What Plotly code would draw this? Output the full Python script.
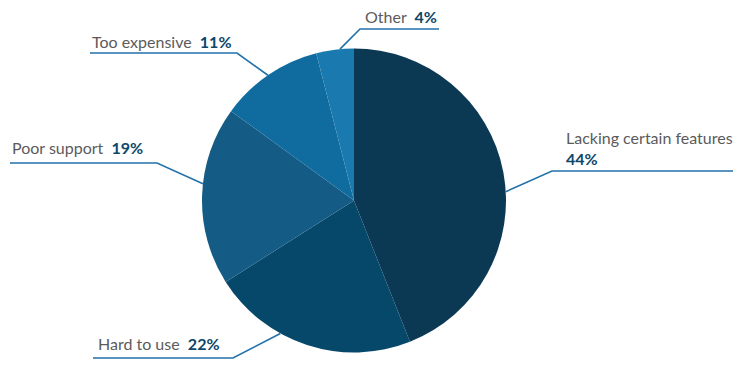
import math
import plotly.graph_objects as go

categories = ["Lacking certain features", "Hard to use", "Poor support", "Too expensive", "Other"]
values = [44, 22, 19, 11, 4]
colors = ["#0b3954", "#06486a", "#145b85", "#106b9f", "#1a7aaf"]

# page has 8px body margin; figure is sized so it fits the window exactly
OFF = 8
W, H = 747 - 2 * OFF, 373 - 2 * OFF
CX, CY, R = 354, 200.5, 152

# label layout (style/positions, in window pixels): anchor angle on rim, elbow, line end, text pos
label_layout = {
    "Lacking certain features": dict(ang=86.7, elbow=(552, 171), end=(733, 171), tx=564, ty=137, anchor="left", two_line=True),
    "Hard to use": dict(ang=209, elbow=(233, 358), end=(93, 358), tx=96, ty=343, anchor="left"),
    "Poor support": dict(ang=276.3, elbow=(157, 163), end=(10, 163), tx=10, ty=148, anchor="left"),
    "Too expensive": dict(ang=325.5, elbow=(237, 53), end=(90, 53), tx=90, ty=41, anchor="left"),
    "Other": dict(ang=354.7, elbow=(360, 29), end=(439, 29), tx=439, ty=16, anchor="right"),
}

def px(x, y):
    return (x - OFF) / W, 1 - (y - OFF) / H

dx0, dy1 = px(CX - R, CY - R)
dx1, dy0 = px(CX + R, CY + R)

fig = go.Figure(go.Pie(
    labels=categories, values=values, sort=False, direction="clockwise", rotation=0,
    marker=dict(colors=colors, line=dict(width=0)), textinfo="none", hoverinfo="label+percent",
    domain=dict(x=[dx0, dx1], y=[dy0, dy1]),
    showlegend=False,
))

LINE = "#2272aa"
GREY = "#5b5b5b"
PCT = "#0e4769"
FONT = "Lato"

shapes, annos = [], []
total = sum(values)
for cat, val in zip(categories, values):
    L = label_layout[cat]
    a = math.radians(L["ang"])
    sx, sy = CX + R * math.sin(a), CY - R * math.cos(a)
    ex, ey = L["elbow"]
    fx, fy = L["end"]
    p0, p1, p2 = px(sx, sy), px(ex, ey), px(fx, fy)
    path = f"M {p0[0]} {p0[1]} L {p1[0]} {p1[1]} L {p2[0]} {p2[1]}"
    shapes.append(dict(type="path", xref="paper", yref="paper", path=path,
                       line=dict(color=LINE, width=1.6)))
    pct = f"{round(val / total * 100)}%"
    tx, ty = px(L["tx"], L["ty"])
    if L.get("two_line"):
        annos.append(dict(x=tx, y=ty, xref="paper", yref="paper", text=cat, showarrow=False,
                          xanchor="left", yanchor="middle", font=dict(family=FONT, size=16, color=GREY)))
        tx2, ty2 = px(L["tx"], L["ty"] + 21)
        annos.append(dict(x=tx2, y=ty2, xref="paper", yref="paper", text=f"<b>{pct}</b>", showarrow=False,
                          xanchor="left", yanchor="middle", font=dict(family=FONT, size=16, color=PCT)))
    else:
        annos.append(dict(x=tx, y=ty, xref="paper", yref="paper",
                          text=f"{cat}  <b><span style='color:{PCT}'>{pct}</span></b>", showarrow=False,
                          xanchor=L["anchor"], yanchor="middle",
                          font=dict(family=FONT, size=16, color=GREY)))

fig.update_layout(width=W, height=H, margin=dict(l=0, r=0, t=0, b=0),
                  paper_bgcolor="white", plot_bgcolor="white",
                  shapes=shapes, annotations=annos)
fig.write_html("out.html")
